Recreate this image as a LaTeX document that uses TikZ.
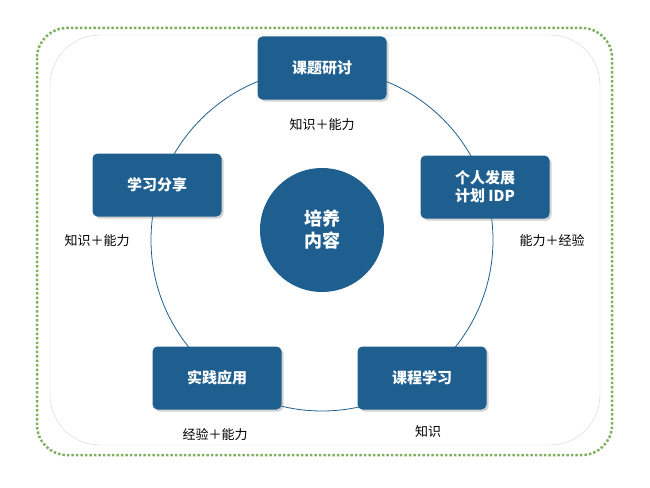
\documentclass[tikz,border=0pt]{standalone}
\usepackage{fontspec}
\setmainfont{Noto Sans CJK SC}
\usetikzlibrary{shadows}
\definecolor{boxblue}{HTML}{1F5F8F}
\definecolor{framegreen}{HTML}{7FAF5F}
\begin{document}
\begin{tikzpicture}[
            x = 1pt, y = -1pt, % pixel-like units
            topic/.style = {
                draw = none,
                fill = boxblue,
                rounded corners = 5pt,
                minimum width = 129pt,
                minimum height = 63pt,
                align = center,
                text = white,
                font = \fontsize{15}{18}\selectfont\bfseries,
                drop shadow = {opacity = 0.35, shadow xshift = 2pt, shadow yshift = -2pt}
            },
            gain/.style = {font = \fontsize{13}{15}\selectfont}
        ]

        \useasboundingbox (0,0) rectangle (650,487);

        % frames
        \draw[framegreen, line width = 2.5pt, dotted, rounded corners = 30pt] (37,28) rectangle (612,455);
        \draw[gray!35, thin, rounded corners = 50pt] (50,35) rectangle (600,445);

        % ring
        \draw[boxblue, thick] (322,240) circle (171);

        \node[circle, fill = boxblue, minimum size = 124pt, text = white, align = center,
              font = \fontsize{18}{22}\selectfont\bfseries] (core) at (322,230) {培养\\内容};

        \node[topic] (topic) at (322,68)  {课题研讨};
        \node[topic] (idp)   at (485,187) {个人发展\\计划 IDP};
        \node[topic] (share) at (157,185) {学习分享};
        \node[topic] (prac)  at (217,378) {实践应用};
        \node[topic] (course) at (422,378) {课程学习};

        \node[gain] (g1) at (322,125) {知识＋能力};
        \node[gain] (g2) at (552,241) {能力＋经验};
        \node[gain] (g3) at (97,241)  {知识＋能力};
        \node[gain] (g4) at (215,435) {经验＋能力};
        \node[gain] (g5) at (428,432) {知识};
    \end{tikzpicture}
\end{document}
